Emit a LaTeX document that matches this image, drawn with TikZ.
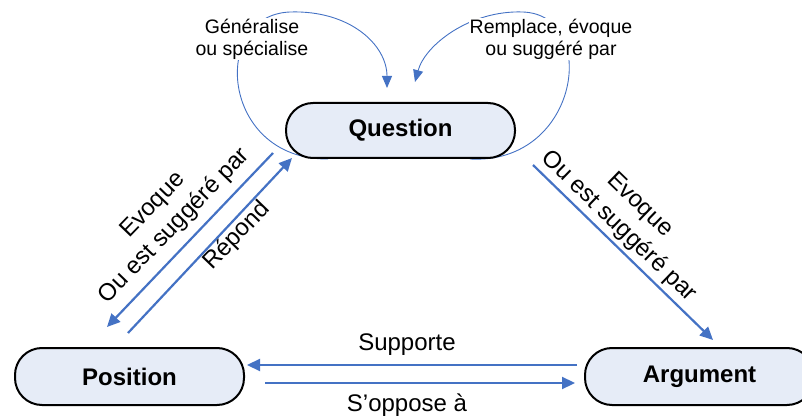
\documentclass[tikz,border=0pt]{standalone}
\usepackage{fontspec}
\setmainfont{Liberation Sans}
\usetikzlibrary{arrows.meta}
\definecolor{arrowblue}{RGB}{68,114,196}
\definecolor{boxfill}{RGB}{230,236,247}
\tikzset{
  conceptbox/.style={draw=black, line width=2pt, fill=boxfill, rounded corners=27pt,
    minimum width=229pt, minimum height=55pt, inner sep=0pt,
    font=\fontsize{24}{28}\selectfont\bfseries},
  bigarrow/.style={draw=arrowblue, line width=2.2pt, -{Triangle[length=13pt,width=12pt]}},
  loopline/.style={draw=arrowblue, line width=0.9pt, -{Triangle[length=12pt,width=10pt]}},
  toplabel/.style={fill=white, inner sep=1pt, align=center,
    font=\fontsize{19.5}{22}\selectfont},
  edgelabel/.style={inner sep=0pt, align=center, font=\fontsize{24}{30}\selectfont}
}
\begin{document}
\begin{tikzpicture}[x=1pt,y=-1pt]
\useasboundingbox (0,0) rectangle (802,419);
\coordinate (Qc) at (400.5,130.5);
% self loops on Question
\draw[loopline] ([shift={(-72.5,28.5)}]Qc) .. controls (220,160) and (210,15) .. (290,12)
  .. controls (350,10) and (387,45) .. ([shift={(-13.5,-42.5)}]Qc);
\draw[loopline] ([shift={(69.5,28.5)}]Qc) .. controls (580,165) and (600,15) .. (523,12)
  .. controls (470,10) and (425,45) .. ([shift={(14.5,-48.5)}]Qc);
\node[toplabel] (lg) at (252,39) {Généralise\\ou spécialise};
\node[toplabel] (lr) at (551,39) {Remplace, évoque\\ou suggéré par};
% nodes
\node[conceptbox] (Q) at (Qc) {Question};
\node[conceptbox, minimum height=57pt] (P) at (129.5,376.5) {Position};
\node[conceptbox, minimum height=57pt] (A) at (699.5,376.5) {Argument};
% connectors
\draw[bigarrow] ([shift={(-127.5,22.5)}]Q.center) -- ([shift={(-22.5,-49.5)}]P.center);
\draw[bigarrow] ([shift={(-1.5,-43.5)}]P.center) -- ([shift={(-108.5,27.5)}]Q.center);
\draw[bigarrow] ([shift={(132.5,34.5)}]Q.center) -- ([shift={(13.5,-36.5)}]A.center);
\draw[bigarrow] ([shift={(-122.5,-11.5)}]A.center) -- ([shift={(117.5,-11.5)}]P.center);
\draw[bigarrow] ([shift={(135.5,6.5)}]P.center) -- ([shift={(-124.5,6.5)}]A.center);
% edge labels
\node[edgelabel] (ls) at (407,345) {Supporte};
\node[edgelabel] (lo) at (407,405) {S’oppose à};
\node[edgelabel, rotate=46] (le) at (164,216) {Evoque\\Ou est suggéré par};
\node[edgelabel, rotate=46] (lp) at (237,236) {Répond};
\node[edgelabel, rotate=-44] (la) at (629,216) {Evoque\\Ou est suggéré par};
\end{tikzpicture}
\end{document}
